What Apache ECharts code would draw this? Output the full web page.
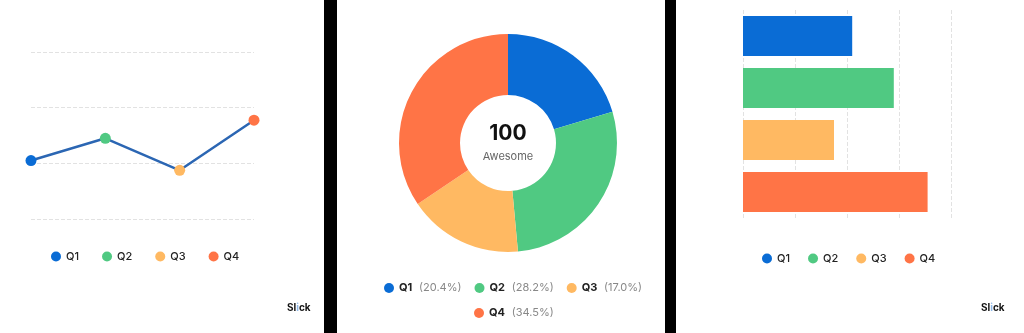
<!doctype html>
<html>
	<head>
		<meta charset="utf-8">
		<title>Quarterly</title>
		<style>
			body { margin: 0; background: #000; }
			.wrap { position: relative; width: 1024px; height: 333px; background: #000; }
			.panel { position: absolute; top: 0; height: 333px; background: #fff; }
			#main { position: absolute; left: 0; top: 0; width: 1024px; height: 333px; }
		</style>
	</head>
	<body>
		<div class="wrap">
			<div class="panel" style="left:0;width:324px"></div>
			<div class="panel" style="left:337px;width:328px"></div>
			<div class="panel" style="left:676px;width:348px"></div>
			<div id="main"></div>
		</div>
		<script src="https://cdn.jsdelivr.net/npm/echarts@6/dist/echarts.min.js"></script>
		<script type="text/javascript">
			var quarters = ['Q1', 'Q2', 'Q3', 'Q4'];
			var values = [21, 29, 17.5, 35.5];
			var colors = ['#0a6cd5', '#50c982', '#ffb962', '#ff7446'];
			var lineTicks = [0, 60, 20]; // min, max, interval
			var barTicks = [0, 40, 10];
			var centerValue = '100';
			var centerLabel = 'Awesome';

			var total = values.reduce(function(a, b) { return a + b; }, 0);
			function pct(name) {
				var i = quarters.indexOf(name);
				return (values[i] / total * 100).toFixed(1);
			}

			var font = 'Inter, "Noto Sans", sans-serif';
			var legendBase = {
				orient: 'horizontal',
				icon: 'circle',
				itemWidth: 10,
				itemHeight: 10,
				itemGap: 23,
				selectedMode: false,
				textStyle: { color: '#222', fontSize: 11, fontWeight: 500, fontFamily: font }
			};
			var pctLegend = {
				formatter: function(name) {
					return '{n|' + name + '}  {p|(' + pct(name) + '%)}';
				},
				textStyle: {
					fontFamily: font,
					rich: {
						n: { color: '#222', fontSize: 11, fontWeight: 'bold', fontFamily: font },
						p: { color: '#888', fontSize: 11, fontFamily: font }
					}
				}
			};
			var mark = {
				text: '{a|Sl}{b|i}{a|ck}',
				rich: {
					a: { fill: '#111', font: 'bold 10px ' + font },
					b: { fill: '#8fb8e8', font: 'bold 10px ' + font }
				}
			};

			var chart = echarts.init(document.getElementById('main'));
			var option = {
				backgroundColor: 'transparent',
				color: colors,
				animation: false,
				grid: [
					{ left: 31, top: 52, width: 223, height: 167 },
					{ left: 743, top: 10, width: 208, height: 208 }
				],
				xAxis: [{
					gridIndex: 0,
					type: 'category',
					boundaryGap: false,
					data: quarters,
					axisLine: { show: false },
					axisTick: { show: false },
					axisLabel: { show: false }
				}, {
					gridIndex: 1,
					type: 'value',
					min: barTicks[0],
					max: barTicks[1],
					interval: barTicks[2],
					axisLine: { show: false },
					axisTick: { show: false },
					axisLabel: { show: false },
					splitLine: { lineStyle: { type: 'dashed', color: '#e2e2e2' } }
				}],
				yAxis: [{
					gridIndex: 0,
					type: 'value',
					min: lineTicks[0],
					max: lineTicks[1],
					interval: lineTicks[2],
					axisLine: { show: false },
					axisTick: { show: false },
					axisLabel: { show: false },
					splitLine: { lineStyle: { type: 'dashed', color: '#e2e2e2' } }
				}, {
					gridIndex: 1,
					type: 'category',
					inverse: true,
					data: quarters,
					axisLine: { show: false },
					axisTick: { show: false },
					axisLabel: { show: false }
				}],
				legend: [
					Object.assign({}, legendBase, { data: quarters, left: 46, top: 246 }),
					Object.assign({}, legendBase, pctLegend, { data: quarters.slice(0, 3), left: 379, top: 277, itemGap: 13 }),
					Object.assign({}, legendBase, pctLegend, { data: quarters.slice(3), left: 469, top: 302 }),
					Object.assign({}, legendBase, { data: quarters, left: 757, top: 248, itemGap: 18 })
				],
				graphic: [
					{ type: 'text', x: 508, y: 134, style: { text: centerValue, align: 'center', verticalAlign: 'middle', fill: '#111', font: 'bold 21px ' + font } },
					{ type: 'text', x: 508, y: 157, style: { text: centerLabel, align: 'center', verticalAlign: 'middle', fill: '#666', font: '11px ' + font } },
					{ type: 'text', left: 287, top: 303, style: mark },
					{ type: 'text', left: 981, top: 303, style: mark }
				],
				series: [{
					type: 'line',
					xAxisIndex: 0,
					yAxisIndex: 0,
					data: values.map(function(v, i) {
						return { value: v, itemStyle: { color: colors[i] } };
					}),
					symbol: 'circle',
					symbolSize: 11,
					lineStyle: { color: '#2b66b3', width: 2.5 }
				}, {
					type: 'pie',
					center: [508, 143],
					radius: [48, 109],
					startAngle: 90,
					label: { show: false },
					labelLine: { show: false },
					data: quarters.map(function(q, i) {
						return { name: q, value: values[i] };
					})
				}, {
					type: 'bar',
					xAxisIndex: 1,
					yAxisIndex: 1,
					barWidth: 40,
					data: values.map(function(v, i) {
						return { value: v, itemStyle: { color: colors[i] } };
					})
				}]
			};
			chart.setOption(option);
		</script>
	</body>
</html>
